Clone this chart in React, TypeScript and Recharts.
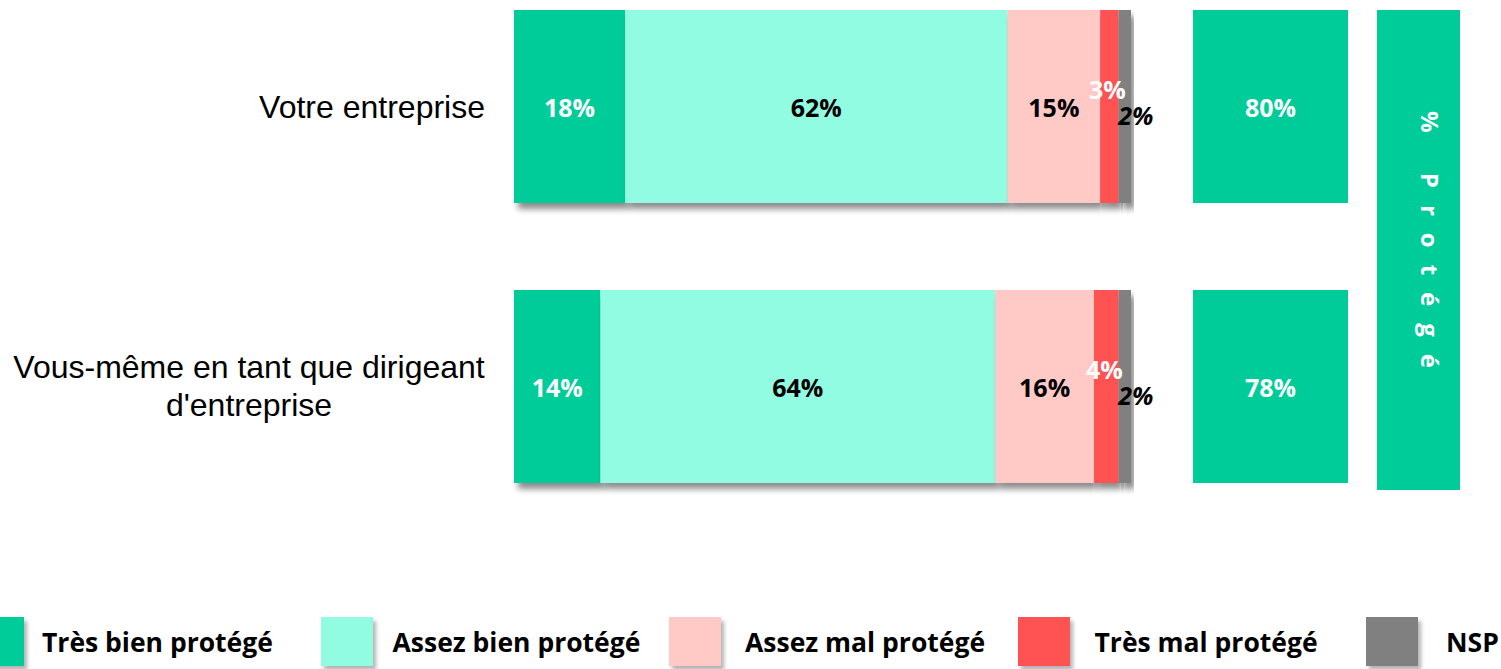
import React from 'react';
import { Bar, BarChart, LabelList, Rectangle, XAxis, YAxis } from 'recharts';

const categories = ['Votre entreprise', "Vous-même en tant que dirigeant d'entreprise"];
const categoryLines = [['Votre entreprise'], ['Vous-même en tant que dirigeant', "d'entreprise"]];

const tresBien = [18, 14];
const assezBien = [62, 64];
const assezMal = [15, 16];
const tresMal = [3, 4];
const nsp = [2, 2];
const protege = [80, 78];
const protegeTitle = '% Protégé';

const series = [
  { key: 'tresBien', name: 'Très bien protégé', color: '#00CC99', text: '#ffffff', dx: 0, dy: 0, italic: false, gap: 18 },
  { key: 'assezBien', name: 'Assez bien protégé', color: '#91FCE2', text: '#000000', dx: 0, dy: 0, italic: false, gap: 20 },
  { key: 'assezMal', name: 'Assez mal protégé', color: '#FFC9C6', text: '#000000', dx: 0, dy: 0, italic: false, gap: 24 },
  { key: 'tresMal', name: 'Très mal protégé', color: '#FF5252', text: '#ffffff', dx: -2, dy: -18, italic: false, gap: 25 },
  { key: 'nsp', name: 'NSP', color: '#808080', text: '#000000', dx: 11, dy: 8, italic: true, gap: 28 },
];

const data = categories.map((name, i) => ({
  name,
  tresBien: tresBien[i],
  assezBien: assezBien[i],
  assezMal: assezMal[i],
  tresMal: tresMal[i],
  nsp: nsp[i],
  protege: protege[i],
}));

const labelFont = '"Open Sans", sans-serif';

const CategoryTick = (props: any) => {
  const { x, y, payload } = props;
  const idx = categories.indexOf(payload.value);
  const lines = categoryLines[idx] || [payload.value];
  if (lines.length === 1) {
    return (
      <text x={x - 29} y={y + 1} textAnchor="end" dominantBaseline="central"
        fontFamily="'Liberation Sans', Arial, sans-serif" fontSize={32} fill="#000">
        {lines[0]}
      </text>
    );
  }
  return (
    <text x={x - 265} y={y} textAnchor="middle" dominantBaseline="central"
      fontFamily="'Liberation Sans', Arial, sans-serif" fontSize={32} fill="#000">
      {lines.map((l: string, i: number) => (
        <tspan key={i} x={x - 265} y={y + (i - (lines.length - 1) / 2) * 38}>{l}</tspan>
      ))}
    </text>
  );
};

const ShadowBar = (props: any) => <Rectangle {...props} filter="url(#barShadow)" />;

const makeLabel = (s: typeof series[number]) => (props: any) => {
  const { x, y, width, height, value } = props;
  return (
    <text x={x + width / 2 + s.dx} y={y + height / 2 + s.dy} textAnchor="middle"
      dominantBaseline="central" fontFamily={labelFont} fontWeight={700} fontSize={25}
      fontStyle={s.italic ? 'italic' : 'normal'} fill={s.text}>
      {value}%
    </text>
  );
};

const ProtegeLabel = (props: any) => {
  const { y, height, value } = props;
  return (
    <text x={155 / 2} y={y + height / 2} textAnchor="middle" dominantBaseline="central"
      fontFamily={labelFont} fontWeight={700} fontSize={25} fill="#fff">
      {value}%
    </text>
  );
};

export default function App() {
  return (
    <div style={{ position: 'absolute', left: 0, top: 0, width: 1501, height: 669, overflow: 'hidden', background: '#fff' }}>
      <svg width={0} height={0} style={{ position: 'absolute' }}>
        <defs>
          <filter id="barShadow" x="-10%" y="-10%" width="130%" height="130%">
            <feGaussianBlur in="SourceAlpha" stdDeviation="3" />
            <feOffset dx="4" dy="6" result="off" />
            <feComponentTransfer>
              <feFuncA type="linear" slope="0.45" />
            </feComponentTransfer>
            <feMerge>
              <feMergeNode />
              <feMergeNode in="SourceGraphic" />
            </feMerge>
          </filter>
        </defs>
      </svg>

      <div style={{ position: 'absolute', left: 0, top: -34 }}>
        <BarChart width={1501} height={560} data={data} layout="vertical"
          margin={{ top: 0, right: 370, bottom: 0, left: 0 }}>
          <XAxis type="number" domain={[0, 100]} hide />
          <YAxis type="category" dataKey="name" width={514} axisLine={false} tickLine={false}
            tickSize={0} tickMargin={0} tick={<CategoryTick />} interval={0} />
          {series.map((s) => (
            <Bar key={s.key} dataKey={s.key} name={s.name} stackId="a" fill={s.color}
              barSize={193} isAnimationActive={false} shape={<ShadowBar />}>
              <LabelList dataKey={s.key} content={makeLabel(s)} />
            </Bar>
          ))}
        </BarChart>
      </div>

      <div style={{ position: 'absolute', left: 1193, top: -34 }}>
        <BarChart width={155} height={560} data={data} layout="vertical"
          margin={{ top: 0, right: 0, bottom: 0, left: 0 }}>
          <XAxis type="number" domain={[0, 100]} hide />
          <YAxis type="category" dataKey="name" hide />
          <Bar dataKey="protege" fill="#00CC99" background={{ fill: '#00CC99' }}
            barSize={193} isAnimationActive={false}>
            <LabelList dataKey="protege" content={ProtegeLabel} />
          </Bar>
        </BarChart>
      </div>

      <svg style={{ position: 'absolute', left: 1377, top: 10 }} width={83} height={480}>
        <rect x={0} y={0} width={83} height={480} fill="#00CC99" />
        <text transform="translate(53,238) rotate(90)" textAnchor="middle" dominantBaseline="central"
          fontFamily={labelFont} fontWeight={700} fontSize={24} letterSpacing={17} fill="#fff">
          {protegeTitle}
        </text>
      </svg>

      {series.map((s, i) => (
        <div key={s.key} style={{ position: 'absolute', left: -28 + i * 348.5, top: 617, display: 'flex', alignItems: 'center' }}>
          <div style={{ width: 52, height: 49, background: s.color, boxShadow: '3px 4px 4px rgba(0,0,0,0.3)' }} />
          <span style={{ marginLeft: s.gap, fontFamily: labelFont, fontWeight: 700, fontSize: 26.5, color: '#000', whiteSpace: 'nowrap' }}>
            {s.name}
          </span>
        </div>
      ))}
    </div>
  );
}
